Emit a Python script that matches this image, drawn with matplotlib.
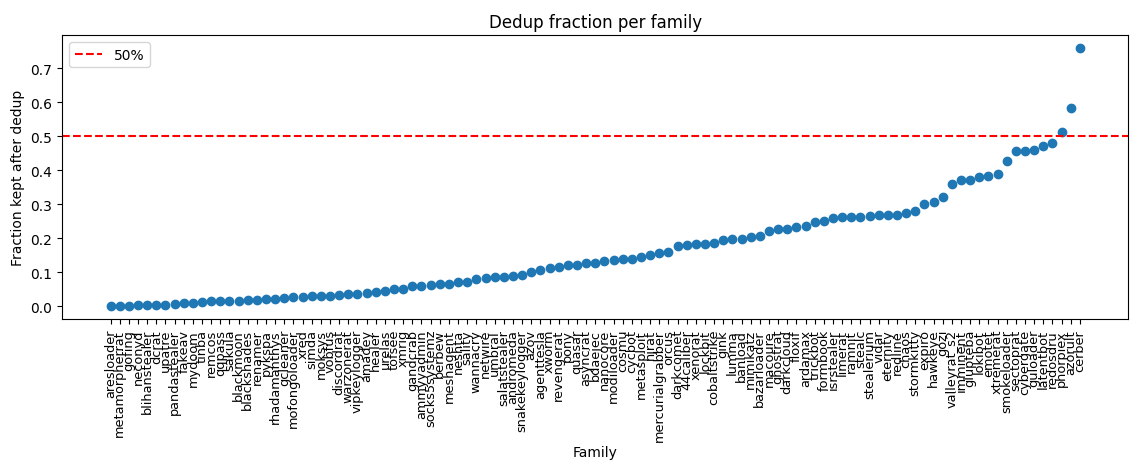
import matplotlib
matplotlib.use("Agg")
import matplotlib.pyplot as plt

families = [
    "aresloader", "metamorpherrat", "gofing", "neconyd", "blihanstealer", "dcrat",
    "upatre", "pandastealer", "fakeav", "mydoom", "tinba", "remcos", "qqpass",
    "sakula", "blackmoon", "blackshades", "renamer", "pykspa", "rhadamanthys",
    "gcleaner", "mofongoloader", "xred", "simda", "moksys", "vobfus", "discordrat",
    "warzonerat", "vipkeylogger", "amadey", "healer", "urelas", "tofsee", "xmrig",
    "gandcrab", "ammyyadmin", "socks5systemz", "berbew", "meshagent", "neshta",
    "sality", "wannacry", "netwire", "umbral", "salatstealer", "andromeda",
    "snakekeylogger", "azov", "agenttesla", "xworm", "revengerat", "pony", "quasar",
    "asyncrat", "bdaejec", "nanocore", "modiloader", "cosmu", "cycbot", "metasploit",
    "njrat", "mercurialgrabber", "orcus", "darkcomet", "44caliber", "xenorat",
    "lockbit", "cobaltstrike", "gink", "lumma", "banload", "mimikatz", "bazarloader",
    "macoure", "ghostrat", "darkcloud", "floxif", "ardamax", "trickbot", "formbook",
    "isrstealer", "limerat", "ramnit", "stealc", "stealerium", "vidar", "eternity",
    "redline", "chaos", "stormkitty", "expiro", "hawkeye", "gozi", "valleyrat_s2",
    "imminent", "glupteba", "lokibot", "emotet", "xtremerat", "smokeloader",
    "sectoprat", "cybergate", "guloader", "latentbot", "redosdru", "phorpiex",
    "azorult", "cerber",
]

fraction_kept = [
    0.000, 0.000, 0.001, 0.003, 0.003, 0.005, 0.005, 0.006, 0.009, 0.011,
    0.012, 0.015, 0.015, 0.016, 0.016, 0.018, 0.019, 0.021, 0.022, 0.025,
    0.026, 0.027, 0.031, 0.031, 0.031, 0.032, 0.035, 0.037, 0.040, 0.042,
    0.045, 0.051, 0.051, 0.059, 0.060, 0.062, 0.065, 0.066, 0.070, 0.072,
    0.081, 0.084, 0.087, 0.087, 0.089, 0.092, 0.101, 0.108, 0.113, 0.115,
    0.121, 0.121, 0.126, 0.128, 0.132, 0.135, 0.139, 0.140, 0.144, 0.151,
    0.156, 0.160, 0.177, 0.179, 0.182, 0.182, 0.185, 0.194, 0.198, 0.198,
    0.203, 0.208, 0.222, 0.228, 0.228, 0.234, 0.236, 0.248, 0.251, 0.259,
    0.261, 0.261, 0.261, 0.266, 0.269, 0.269, 0.269, 0.275, 0.279, 0.302,
    0.306, 0.320, 0.360, 0.371, 0.371, 0.380, 0.383, 0.388, 0.427, 0.455,
    0.455, 0.458, 0.470, 0.480, 0.512, 0.584, 0.759,
]

threshold = 0.5

fig, ax = plt.subplots(figsize=(11.3, 4.64))
ax.scatter(families, fraction_kept)
ax.axhline(threshold, color='red', linestyle='--', label='50%')
ax.set_title("Dedup fraction per family")
ax.set_xlabel("Family", labelpad=3)
ax.set_ylabel("Fraction kept after dedup")
ax.tick_params(axis='x', rotation=90, labelsize=9.3)
ax.legend(loc='upper left')
fig.subplots_adjust(left=0.055, right=0.9985, top=0.922, bottom=0.31)
fig.savefig("out.png", dpi=100)
